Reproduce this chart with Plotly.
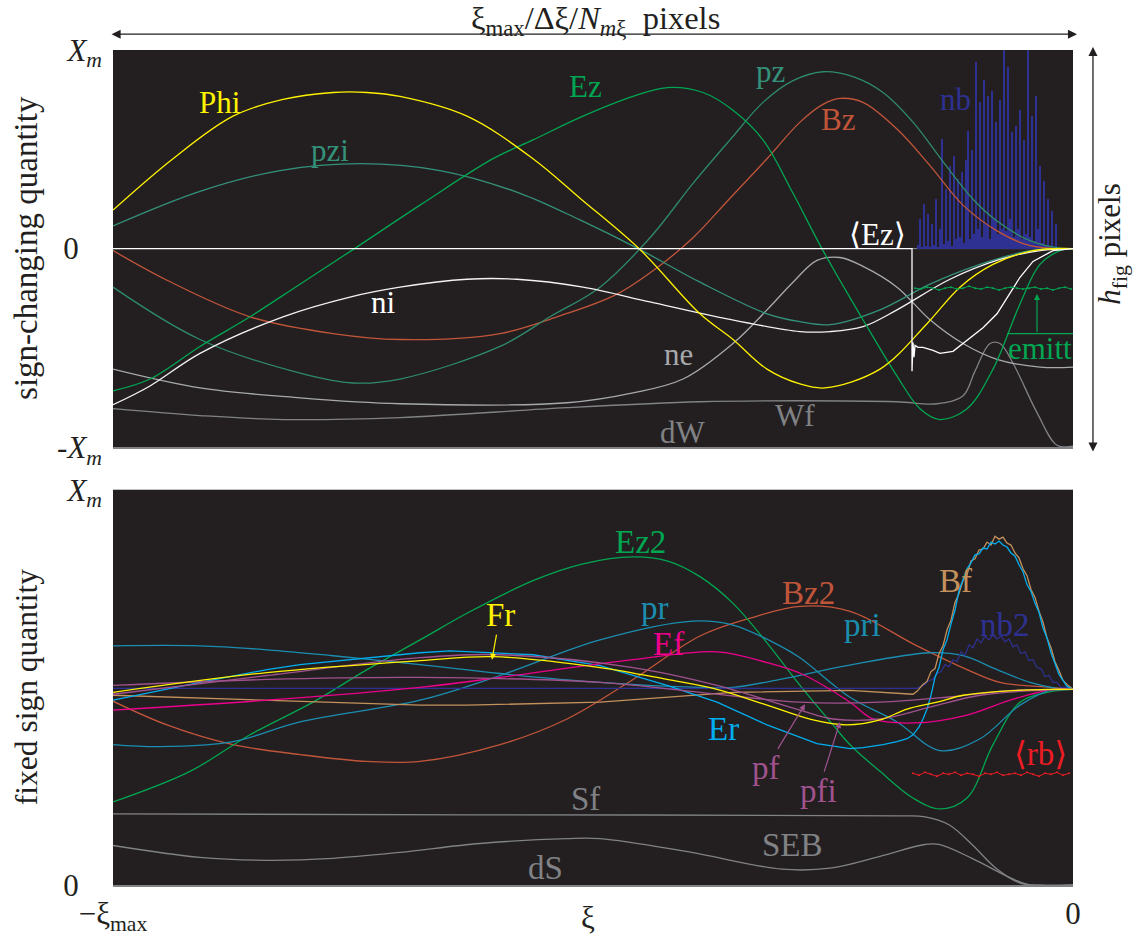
import plotly.graph_objects as go

FONT = "Liberation Serif, DejaVu Serif, serif"
BG = "#231f20"
FS = 31

# ---------------- top panel (sign-changing), x: -960 (-xi_max) .. 0, y: -201 (-X_m) .. 201 (X_m)
phi_x = [-960, -900, -840, -790, -740, -706, -673, -606, -540, -493, -433, -373, -340, -306, -273, -248, -193, -146, -113, -80, -40, 0]
phi_y = [39, 91, 134, 151, 158, 158, 154, 134, 91, 51, -1, -66, -92, -122, -137, -141, -122, -76, -39, -16, -2, 0]

pzi_x = [-960, -873, -793, -713, -633, -553, -493, -433, -373, -306, -273, -243, -193, -143, -93, -43, 0]
pzi_y = [23, 58, 79, 86, 79, 56, 29, -1, -34, -66, -74, -77, -62, -36, -16, -2, 0]

ez_x = [-960, -923, -873, -823, -773, -720, -653, -580, -540, -490, -440, -406, -370, -340, -310, -280, -250, -210, -176, -153, -133, -106, -80, -53, -33, -13, 0]
ez_y = [-144, -132, -99, -69, -36, -1, 44, 91, 110, 134, 154, 163, 158, 140, 110, 56, -2, -72, -129, -162, -173, -162, -122, -56, -16, -2, 0]

pz_x = [-960, -873, -773, -720, -673, -573, -523, -473, -423, -380, -343, -310, -280, -250, -220, -190, -160, -130, -100, -76, -43, -10, 0]
pz_y = [-39, -92, -126, -136, -132, -99, -69, -39, 11, 66, 110, 148, 170, 179, 174, 158, 128, 88, 50, 28, 8, 0, 0]

bz_x = [-960, -906, -823, -740, -673, -573, -516, -456, -413, -380, -343, -306, -273, -250, -233, -210, -176, -143, -110, -76, -43, 0]
bz_y = [-2, -32, -69, -86, -92, -86, -69, -46, -17, 11, 51, 91, 128, 146, 152, 148, 121, 84, 44, 18, 3, 0]

ni_x = [-960, -923, -873, -790, -723, -673, -606, -556, -490, -423, -356, -273, -243, -210, -176, -123, -73, -33, 0]
ni_y = [-158, -139, -106, -69, -49, -39, -31, -31, -39, -54, -69, -84, -84, -79, -62, -31, -11, -2, 0]

ne_x = [-960, -873, -773, -673, -506, -440, -390, -340, -306, -280, -256, -233, -210, -176, -143, -110, -76, -33, 0]
ne_y = [-122, -141, -151, -157, -156, -146, -132, -96, -62, -34, -12, -9, -18, -39, -72, -96, -112, -120, -120]

wf_x = [-960, -873, -790, -673, -506, -373, -273, -176, -136, -110, -98, -83, -73, -60, -36, -16, 0]
wf_y = [-162, -169, -173, -171, -161, -155, -154, -155, -157, -149, -124, -96, -96, -116, -166, -199, -200]

ezavg_x = [-960, -161, -161, -160, -159, -158, -155, -150, -140, -133, -120, -110, -90, -76, -53, -40, -20, 0]
ezavg_y = [0, 0, -124, -95, -110, -98, -100, -100, -103, -106, -104, -96, -80, -66, -29, -13, -2, 0]

nb_x = list(range(-155, -14, 2))
nb_y = [4, 30, 2, 45, 3, 35, 1, 25, 4, 50,
        2, 20, 111, 5, 60, 8, 84, 3, 94, 10,
        70, 12, 78, 6, 90, 119, 10, 100, 15, 189,
        20, 148, 12, 171, 25, 154, 10, 160, 30, 128,
        15, 150, 20, 201, 18, 184, 30, 118, 12, 124,
        20, 140, 10, 110, 15, 201, 12, 134, 8, 154,
        20, 84, 6, 68, 4, 50, 2, 38, 1, 25, 0]

emitt_x = list(range(-158, -1, 6))
emitt_y = [-40, -41, -39, -40, -42, -40, -39, -41, -40, -38, -40, -41, -39, -40,
           -42, -40, -39, -40, -41, -40, -39, -41, -40, -42, -40, -39, -41]

# ---------------- bottom panel (fixed sign), y: 0 .. 400 (X_m)
ez2_x = [-960, -883, -823, -760, -706, -653, -606, -540, -490, -440, -406, -373, -340, -306, -273, -240, -223, -193, -160, -133, -106, -80, -53, -26, 0]
ez2_y = [84, 115, 152, 185, 218, 248, 275, 308, 325, 332, 328, 312, 285, 245, 202, 162, 142, 115, 88, 77, 88, 142, 185, 195, 198]

bz2_x = [-960, -906, -840, -773, -706, -653, -573, -506, -440, -373, -323, -273, -223, -156, -106, -73, -23, 0]
bz2_y = [186, 162, 142, 132, 125, 125, 142, 168, 208, 252, 270, 282, 277, 242, 218, 205, 200, 198]

pr_x = [-960, -913, -840, -773, -653, -573, -473, -380, -340, -293, -273, -223, -176, -133, -93, -53, -20, 0]
pr_y = [142, 140, 145, 165, 187, 212, 248, 267, 263, 242, 230, 190, 165, 136, 148, 182, 198, 198]

pri_x = [-960, -873, -806, -740, -653, -573, -473, -373, -340, -293, -226, -143, -110, -76, -43, -16, 0]
pri_y = [242, 242, 238, 232, 223, 214, 205, 200, 200, 208, 222, 235, 232, 218, 205, 199, 198]

er_x = [-960, -873, -806, -773, -653, -623, -540, -473, -406, -356, -306, -256, -223, -210, -190,
        -176, -166, -160, -154, -150, -146, -142, -138, -134, -130, -126, -122, -118, -114, -110,
        -106, -102, -98, -94, -90, -86, -82, -78, -74, -70, -66, -62, -58, -54, -50, -46, -42,
        -38, -34, -30, -26, -22, -18, -14, -10, -6, -2, 0]
er_y = [187, 205, 218, 223, 235, 237, 233, 222, 202, 185, 162, 143, 138, 139, 142,
        145, 148, 152, 160, 168, 178, 192, 210, 220, 238, 248, 264, 278, 298, 308,
        320, 326, 334, 335, 341, 340, 347, 345, 348, 344, 342, 336, 333, 324, 317, 304, 297,
        285, 276, 260, 250, 235, 225, 213, 207, 201, 199, 198]

bf_x = [-960, -806, -653, -606, -473, -340, -223, -160, -156, -150, -146, -142, -138, -134, -130, -126, -122,
        -118, -114, -110, -106, -102, -98, -94, -90, -86, -82, -78, -74, -70, -66, -62, -58,
        -54, -50, -46, -42, -38, -34, -30, -26, -22, -18, -14, -10, -6, -2, 0]
bf_y = [192, 187, 182, 182, 185, 195, 197, 193, 196, 203, 206, 216, 219, 234, 242, 258, 268,
        286, 295, 308, 314, 328, 330, 339, 340, 347, 344, 353, 350, 352, 346, 344, 336,
        331, 320, 313, 299, 291, 277, 266, 250, 240, 226, 217, 207, 203, 199, 198]

ef_x = [-960, -806, -653, -573, -440, -356, -306, -270, -223, -200, -158, -106, -60, -20, 0]
ef_y = [177, 187, 200, 210, 228, 236, 225, 213, 185, 168, 164, 172, 188, 198, 198]

fr_x = [-960, -806, -653, -580, -473, -406, -356, -306, -260, -226, -193, -166, -136, -110, -73, -23, 0]
fr_y = [195, 215, 227, 231, 220, 208, 198, 182, 167, 162, 167, 178, 185, 192, 196, 198, 198]

pfi_x = [-960, -806, -653, -573, -440, -356, -273, -240, -193, -143, -93, -33, 0]
pfi_y = [193, 212, 230, 233, 220, 202, 177, 168, 168, 180, 192, 197, 198]

pf_x = [-960, -806, -653, -473, -373, -273, -193, -126, -60, 0]
pf_y = [202, 208, 210, 205, 195, 185, 185, 190, 197, 198]

nb2_x = [-960, -160] + list(range(-156, 1, 4))
nb2_y = [199, 199,
         199, 201, 203, 207, 208, 214, 216, 223, 221, 228,
         226, 236, 232, 243, 240, 249, 245, 252, 248, 253,
         249, 252, 246, 249, 241, 243, 234, 236, 227, 228,
         220, 219, 211, 212, 205, 205, 200, 200, 198, 198]

sf_x = [-960, -600, -172, -148, -124, -101, -77, -53, -33, 0]
sf_y = [72, 71, 70, 69, 61, 41, 17, 2, 0, 0]

ds_x = [-960, -873, -806, -740, -673, -593, -506, -473, -387, -291, -243, -193, -148, -134, -101, -62, -43, 0]
ds_y = [40, 28, 25, 27, 33, 42, 47, 47, 34, 16, 17, 29, 41, 41, 27, 7, 0, 0]

rb_x = list(range(-160, -1, 6))
rb_y = [113, 111, 114, 112, 110, 113, 112, 114, 111, 113, 112, 110, 113, 112,
        114, 111, 112, 113, 111, 114, 112, 110, 113, 112, 114, 111, 113]

# colours
C_YEL = "#fff200"
C_GRN = "#00a651"
C_TEAL = "#34917a"
C_TEAL2 = "#2e8a6c"
C_BZ = "#c1553a"
C_BLUE = "#2e3192"
C_WHITE = "#ffffff"
C_LGRAY = "#a7a9ac"
C_GRAY = "#808285"
C_PR = "#1b8db0"
C_ER = "#00aeef"
C_EF = "#ec008c"
C_PF = "#a0528e"
C_BF = "#c4915c"
C_RED = "#ed1c24"
C_INK = "#231f20"

fig = go.Figure()


def add(x, y, color, top=True, shape="spline", width=1.3, mode="lines"):
    line = dict(color=color, width=width, shape=shape)
    if shape == "spline":
        line["smoothing"] = 1.0
    fig.add_trace(go.Scatter(
        x=x, y=y, mode=mode, line=line, marker=dict(size=2, color=color),
        xaxis="x" if top else "x2", yaxis="y" if top else "y2",
        hoverinfo="skip", showlegend=False))


# top traces
fig.add_trace(go.Bar(x=nb_x, y=nb_y, width=0.9, marker=dict(color=C_BLUE, line=dict(width=0)),
                     xaxis="x", yaxis="y", hoverinfo="skip", showlegend=False))
add(wf_x, wf_y, C_GRAY)
add(ne_x, ne_y, C_LGRAY)
add(bz_x, bz_y, C_BZ)
add(pzi_x, pzi_y, C_TEAL)
add(pz_x, pz_y, C_TEAL2)
add(ni_x, ni_y, "#f2f2f2")
add(ez_x, ez_y, C_GRN)
add(phi_x, phi_y, C_YEL)
add(ezavg_x, ezavg_y, C_WHITE, shape="linear", width=1.3)
add(emitt_x, emitt_y, C_GRN, shape="linear", width=1, mode="lines+markers")

# bottom traces
add(ds_x, ds_y, C_GRAY, top=False)
add(sf_x, sf_y, C_GRAY, top=False)
add(bz2_x, bz2_y, C_BZ, top=False)
add(ez2_x, ez2_y, C_GRN, top=False)
add(pr_x, pr_y, C_PR, top=False)
add(pri_x, pri_y, C_PR, top=False)
add(nb2_x, nb2_y, C_BLUE, top=False, shape="linear", width=1.2)
add(bf_x, bf_y, C_BF, top=False, shape="linear", width=1.3)
add(er_x, er_y, C_ER, top=False, shape="linear", width=1.3)
add(ef_x, ef_y, C_EF, top=False)
add(pf_x, pf_y, C_PF, top=False)
add(pfi_x, pfi_y, C_PF, top=False)
add(fr_x, fr_y, C_YEL, top=False)
add(rb_x, rb_y, C_RED, top=False, shape="linear", width=1, mode="lines+markers")

ann = []


def lab(text, x, y, color, top=True, size=FS):
    ann.append(dict(text=text, x=x, y=y, xref="x" if top else "x2", yref="y" if top else "y2",
                    xanchor="center", yanchor="middle",
                    showarrow=False, font=dict(family=FONT, size=size, color=color)))


lab("Phi", -853, 148, C_YEL)
lab("pzi", -743, 99, C_TEAL)
lab("Ez", -488, 164, C_GRN)
lab("pz", -303, 179, C_TEAL)
lab("Bz", -235, 131, C_BZ)
lab("nb", -118, 151, C_BLUE)
lab("⟨Ez⟩", -196, 14, C_WHITE)
lab("ni", -690, -55, C_WHITE)
lab("ne", -395, -107, C_LGRAY)
lab("emitt", -33, -101, C_GRN)
lab("Wf", -278, -169, C_GRAY)
lab("dW", -390, -186, C_GRAY)

lab("Ez2", -433, 347, C_GRN, top=False, size=33)
lab("Bz2", -265, 295, C_BZ, top=False, size=33)
lab("pr", -418, 280, C_PR, top=False, size=33)
lab("Ef", -405, 244, C_EF, top=False, size=33)
lab("pri", -211, 263, C_PR, top=False, size=33)
lab("Bf", -118, 308, C_BF, top=False, size=33)
lab("nb2", -68, 263, C_BLUE, top=False, size=33)
lab("Er", -350, 158, C_ER, top=False, size=33)
lab("⟨rb⟩", -33, 133, C_RED, top=False, size=33)
lab("Sf", -488, 87, C_GRAY, top=False, size=33)
lab("SEB", -281, 40, C_GRAY, top=False, size=33)
lab("dS", -528, 17, C_GRAY, top=False, size=33)

# labels with arrows
for text, x, y, ax, ay, col in [("Fr", -581, 228, -573, 273, C_YEL),
                                ("pf", -268, 183, -307, 118, C_PF),
                                ("pfi", -233, 165, -255, 95, C_PF)]:
    ann.append(dict(text=text, x=x, y=y, ax=ax, ay=ay, xref="x2", yref="y2", axref="x2", ayref="y2",
                    xanchor="center", yanchor="middle",
                    showarrow=True, arrowhead=2, arrowsize=1, arrowwidth=1.2, arrowcolor=col,
                    font=dict(family=FONT, size=33, color=col)))

# emitt arrow
ann.append(dict(text="", x=-36, y=-46, ax=-36, ay=-86, xref="x", yref="y", axref="x", ayref="y",
                showarrow=True, arrowhead=2, arrowsize=1, arrowwidth=1.2, arrowcolor=C_GRN))

# top dimension arrow + text
ann.append(dict(text="", x=1.0042, y=1.0189, xref="paper", yref="paper", ax=-967, ay=0,
                axref="pixel", ayref="pixel", showarrow=True, arrowhead=2, arrowsize=1.4,
                arrowwidth=1.3, arrowcolor=C_INK, arrowside="end+start"))
ann.append(dict(text="ξ<sub>max</sub>/Δξ/<i>N</i><sub><i>m</i>ξ</sub>\u00a0\u00a0pixels", x=0.503, y=1.0355,
                xref="paper", yref="paper", xanchor="center", yanchor="middle", showarrow=False,
                font=dict(family=FONT, size=32.5, color=C_INK)))
# right dimension arrow + text
ann.append(dict(text="", x=1.0208, y=1.0036, xref="paper", yref="paper", ax=0, ay=406,
                axref="pixel", ayref="pixel", showarrow=True, arrowhead=2, arrowsize=1.4,
                arrowwidth=1.3, arrowcolor=C_INK, arrowside="end+start"))
ann.append(dict(text="<i>h</i><sub>fig</sub> pixels", x=1.0406, y=0.768, xref="paper", yref="paper",
                xanchor="center", yanchor="middle",
                textangle=-90, showarrow=False, font=dict(family=FONT, size=FS, color=C_INK)))

# axis titles
ann.append(dict(text="sign-changing quantity", x=-0.0906, y=0.763, xref="paper", yref="paper",
                xanchor="center", yanchor="middle",
                textangle=-90, showarrow=False, font=dict(family=FONT, size=33, color=C_INK)))
ann.append(dict(text="fixed sign quantity", x=-0.0906, y=0.237, xref="paper", yref="paper",
                xanchor="center", yanchor="middle",
                textangle=-90, showarrow=False, font=dict(family=FONT, size=31.5, color=C_INK)))
ann.append(dict(text="ξ", x=0.495, y=-0.039, xref="paper", yref="paper",
                xanchor="center", yanchor="middle",
                showarrow=False, font=dict(family=FONT, size=FS, color=C_INK)))

shapes = [
    dict(type="line", xref="x", yref="y", x0=-161, x1=0, y0=0, y1=0,
         line=dict(color="#8a8a8a", width=1), layer="below"),
    dict(type="line", xref="x", yref="y", x0=-66, x1=0, y0=-86, y1=-86,
         line=dict(color=C_GRN, width=1.3)),
]

XM = "<i>X</i><sub><i>m</i></sub>"
ZERO = "0\u00a0\u00a0\u00a0"
tickfont = dict(family=FONT, size=FS, color=C_INK)

fig.update_layout(
    width=1146, height=948,
    margin=dict(l=113, r=73, t=50, b=53),
    paper_bgcolor="white", plot_bgcolor=BG,
    showlegend=False, hovermode=False, bargap=0,
    annotations=ann, shapes=shapes,
    xaxis=dict(domain=[0, 1], anchor="y", range=[-960, 0], showticklabels=False, showgrid=False,
               zeroline=False, showline=True, linecolor="#808285", linewidth=2, ticks=""),
    yaxis=dict(domain=[0.5243, 1], anchor="x", range=[-201, 201], showgrid=False, zeroline=False,
               showline=False, ticks="", tickvals=[-201, 0, 201],
               ticktext=["-" + XM, ZERO, XM], ticklabelstandoff=10, tickfont=tickfont),
    xaxis2=dict(domain=[0, 1], anchor="y2", range=[-960, 0], showgrid=False, zeroline=False,
                showline=True, linecolor="#808285", linewidth=2, ticks="",
                tickvals=[-960, 0], ticktext=["−ξ<sub>max</sub>", "0"], tickfont=tickfont),
    yaxis2=dict(domain=[0, 0.4734], anchor="x2", range=[0, 400], showgrid=False, zeroline=False,
                showline=False, ticks="", tickvals=[0, 400], ticktext=[ZERO, XM],
                ticklabelstandoff=10, tickfont=tickfont),
)

fig.write_html("out.html", config={"displayModeBar": False},
               post_script="document.body.style.margin='0';document.body.style.overflow='hidden';")
